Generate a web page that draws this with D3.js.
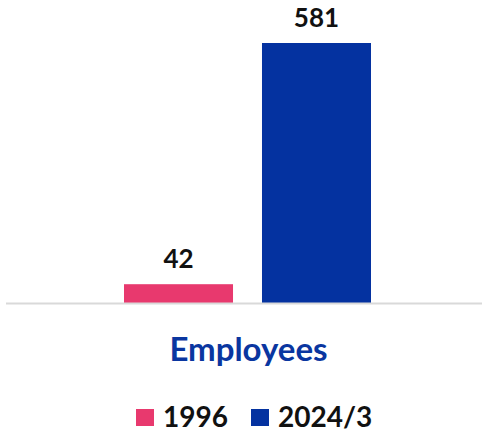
<!DOCTYPE html>
<html>
<head>
<meta charset="utf-8">
<script src="https://cdn.jsdelivr.net/npm/d3@7"></script>
<style>
  html, body { margin: 0; padding: 0; background: #fff; }
  svg { display: block; }
  text { font-family: Lato, "Open Sans", "Noto Sans", sans-serif; font-weight: 700; }
</style>
</head>
<body>
<svg id="chart" width="483" height="432"></svg>
<script>
// Headcount by period
const categories = ["Employees"];
const series = ["1996", "2024/3"];
const values = { "1996": [42], "2024/3": [581] };
const colors = ["#E8396E", "#0432A0"];

const W = 483, H = 432;
const baseY = 303;
const topY = 43;

const svg = d3.select("#chart");

const x0 = d3.scaleBand().domain(categories).range([124, 371]).padding(0);
const x1 = d3.scaleBand().domain(series).range([0, x0.bandwidth()]).paddingInner(0.21).paddingOuter(0);
const y = d3.scaleLinear().domain([0, 581]).range([baseY, topY]);
const color = d3.scaleOrdinal().domain(series).range(colors);

// bars
const groups = svg.selectAll("g.cat").data(categories).join("g")
  .attr("class", "cat")
  .attr("transform", d => `translate(${x0(d)},0)`);

groups.selectAll("rect").data((d, i) => series.map(s => ({ s, v: values[s][i] }))).join("rect")
  .attr("x", d => x1(d.s))
  .attr("y", d => y(d.v))
  .attr("width", x1.bandwidth())
  .attr("height", d => baseY - y(d.v))
  .attr("fill", d => color(d.s));

// value labels
groups.selectAll("text.val").data((d, i) => series.map(s => ({ s, v: values[s][i] }))).join("text")
  .attr("class", "val")
  .attr("x", d => x1(d.s) + x1.bandwidth() / 2)
  .attr("y", d => y(d.v) - 16)
  .attr("text-anchor", "middle")
  .attr("font-size", 26)
  .attr("fill", "#111")
  .text(d => d.v);

// baseline
svg.append("line")
  .attr("x1", 6).attr("x2", 482)
  .attr("y1", baseY + 0.5).attr("y2", baseY + 0.5)
  .attr("stroke", "#d9d9d9").attr("stroke-width", 2);

// category axis label
svg.selectAll("text.cat").data(categories).join("text")
  .attr("class", "cat")
  .attr("x", d => x0(d) + x0.bandwidth() / 2 + 1)
  .attr("y", 361)
  .attr("text-anchor", "middle")
  .attr("font-size", 33)
  .attr("fill", "#0A36A0")
  .text(d => d);

// legend
const legendItems = [
  { s: "1996", x: 136 },
  { s: "2024/3", x: 251 }
];
const lg = svg.append("g").attr("class", "legend");
const li = lg.selectAll("g").data(legendItems).join("g")
  .attr("transform", d => `translate(${d.x},0)`);
li.append("rect")
  .attr("x", 0).attr("y", 409).attr("width", 18).attr("height", 17)
  .attr("fill", d => color(d.s));
li.append("text")
  .attr("x", 27).attr("y", 427)
  .attr("font-size", 28)
  .attr("fill", "#111")
  .text(d => d.s);
</script>
</body>
</html>
